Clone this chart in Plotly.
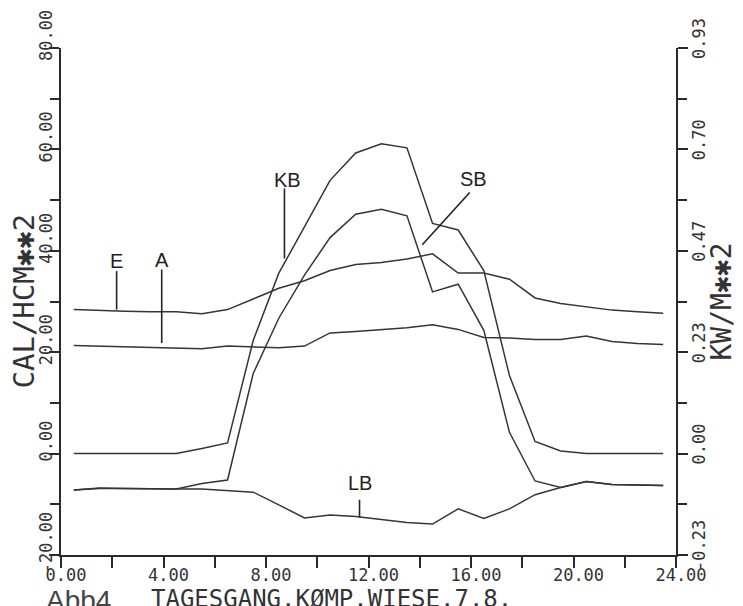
import plotly.graph_objects as go

# ---------------- data ----------------
hours = [0.5, 1.5, 2.5, 3.5, 4.5, 5.5, 6.5, 7.5, 8.5, 9.5, 10.5, 11.5,
         12.5, 13.5, 14.5, 15.5, 16.5, 17.5, 18.5, 19.5, 20.5, 21.5, 22.5, 23.5]

E = [28.4, 28.2, 28.1, 28.0, 28.0, 27.6, 28.4, 30.5, 32.6, 34.1, 36.1, 37.3,
     37.7, 38.4, 39.4, 35.6, 35.6, 34.4, 30.7, 29.6, 28.9, 28.3, 28.0, 27.7]

A = [21.3, 21.2, 21.1, 21.0, 20.8, 20.7, 21.2, 21.0, 20.9, 21.2, 23.8, 24.1,
     24.4, 24.8, 25.4, 24.5, 22.9, 22.8, 22.5, 22.5, 23.2, 22.1, 21.7, 21.5]

KB = [0.0, 0.0, 0.0, 0.0, 0.0, 1.0, 2.1, 22.3, 35.6, 44.7, 53.9, 59.3,
      61.1, 60.3, 45.4, 44.1, 36.1, 15.4, 2.4, 0.5, 0.0, 0.0, 0.0, 0.0]

SB = [-7.2, -6.9, -6.9, -7.0, -7.0, -5.9, -5.2, 15.8, 26.7, 35.2, 42.6, 47.2,
      48.2, 46.9, 31.9, 33.4, 24.3, 4.2, -5.4, -6.7, -5.5, -6.1, -6.2, -6.3]

LB = [-7.2, -6.8, -6.9, -7.0, -7.0, -7.0, -7.3, -7.6, -10.1, -12.7, -12.1, -12.4,
      -13.0, -13.6, -13.9, -10.9, -12.8, -10.9, -8.1, -6.7, -5.5, -6.1, -6.2, -6.3]

series_names = ["E", "A", "KB", "SB", "LB"]

x_tickvals = [0, 4, 8, 12, 16, 20, 24]
x_ticktext = ["0.00", "4.00", "8.00", "12.00", "16.00", "20.00", "24.00"]
y_tickvals = [-20, 0, 20, 40, 60, 80]
y_ticktext = ["-20.00", "0.00", "20.00", "40.00", "60.00", "80.00"]
y2_ticktext = ["-0.23", "0.00", "0.23", "0.47", "0.70", "0.93"]

left_title = "CAL/HCM\u2731\u27312"
right_title = "KW/M\u2731\u27312"
caption_abb = "Abb4"
caption_text = "TAGESGANG.K\u00d8MP.WIESE.7.8."

# ---------------- styling ----------------
INK = "#353535"
AX = "#2a2a2a"
MONO = "DejaVu Sans Mono"

fig = go.Figure()
for name, vals in zip(series_names, [E, A, KB, SB, LB]):
    fig.add_trace(go.Scatter(x=hours, y=vals, mode="lines", name=name,
                             line=dict(color=INK, width=1.5),
                             showlegend=False, hoverinfo="skip"))

# carrier trace for the right-hand axis (invisible)
fig.add_trace(go.Scatter(x=hours, y=E, yaxis="y2", mode="lines",
                         line=dict(width=0, color="rgba(0,0,0,0)"),
                         showlegend=False, hoverinfo="skip"))

tickfont = dict(family=MONO, size=17, color="#333")

fig.update_layout(
    width=743, height=606,
    margin=dict(l=61, r=67, t=48, b=51),
    paper_bgcolor="white", plot_bgcolor="white",
    xaxis=dict(range=[0, 24], tickvals=x_tickvals, ticktext=x_ticktext,
               ticks="outside", ticklen=11, tickwidth=1.5, tickcolor=AX,
               showline=True, linecolor=AX, linewidth=1.5,
               showgrid=False, zeroline=False, automargin=False,
               tickfont=tickfont, ticklabelshift=5, ticklabelstandoff=-7,
               minor=dict(ticks="outside", ticklen=11, tickwidth=1.5,
                          tickcolor=AX, dtick=2, tick0=0, showgrid=False)),
    yaxis=dict(range=[-20, 80], tickvals=y_tickvals, ticktext=y_ticktext,
               tickangle=-90, ticks="outside", ticklen=10, tickwidth=1.5,
               tickcolor=AX, showline=True, linecolor=AX, linewidth=1.5,
               showgrid=False, zeroline=False, automargin=False,
               tickfont=tickfont, ticklabelshift=-10, ticklabelstandoff=-10,
               minor=dict(ticks="outside", ticklen=9, tickwidth=1.5,
                          tickcolor=AX, dtick=10, tick0=0, showgrid=False)),
    yaxis2=dict(range=[-20, 80], overlaying="y", side="right",
                tickvals=y_tickvals, ticktext=y2_ticktext,
                tickangle=-90, ticks="outside", ticklen=10, tickwidth=1.5,
                tickcolor=AX, showline=True, linecolor=AX, linewidth=1.5,
                showgrid=False, zeroline=False, automargin=False,
                tickfont=tickfont, ticklabelshift=-7, ticklabelstandoff=-3,
                minor=dict(ticks="outside", ticklen=9, tickwidth=1.5,
                           tickcolor=AX, dtick=10, tick0=0, showgrid=False)),
)

# series labels with leader lines
label_font = dict(family="Liberation Sans", size=20, color="#222")
labels = [
    ("E", 2.17, 38.0, [(2.17, 36.0), (2.17, 28.4)]),
    ("A", 3.95, 38.1, [(3.93, 36.3), (3.93, 21.8)]),
    ("KB", 8.82, 53.9, [(8.72, 52.3), (8.72, 38.5)]),
    ("SB", 16.1, 54.1, [(15.95, 51.5), (14.1, 41.2)]),
    ("LB", 11.65, -5.7, [(11.65, -9.1), (11.65, -12.6)]),
]
for text, lx, ly, seg in labels:
    fig.add_annotation(x=lx, y=ly, xref="x", yref="y", text=text,
                       showarrow=False, font=label_font)
    (x0, y0), (x1, y1) = seg
    fig.add_shape(type="line", xref="x", yref="y", x0=x0, y0=y0, x1=x1, y1=y1,
                  line=dict(color="#222", width=1.6))

# axis titles
fig.add_annotation(x=0, y=0.5, xref="paper", yref="paper", xshift=-38,
                   xanchor="center", yanchor="middle",
                   text=left_title, textangle=-90, showarrow=False,
                   font=dict(family=MONO, size=29, color="#333"))
fig.add_annotation(x=1, y=0.5, xref="paper", yref="paper", xshift=45,
                   xanchor="center", yanchor="middle",
                   text=right_title, textangle=-90, showarrow=False,
                   font=dict(family=MONO, size=28, color="#333"))

# caption
fig.add_annotation(x=0, y=0, xref="paper", yref="paper", xshift=-17, yshift=-28,
                   xanchor="left", yanchor="top", text=caption_abb,
                   showarrow=False,
                   font=dict(family="Liberation Sans", size=28, color="#444"))
fig.add_annotation(x=0, y=0, xref="paper", yref="paper", xshift=88, yshift=-28,
                   xanchor="left", yanchor="top", text=caption_text,
                   showarrow=False,
                   font=dict(family=MONO, size=24, color="#333"))

fig.write_html("out.html", config={"displayModeBar": False},
               post_script="document.body.style.margin='0';")
